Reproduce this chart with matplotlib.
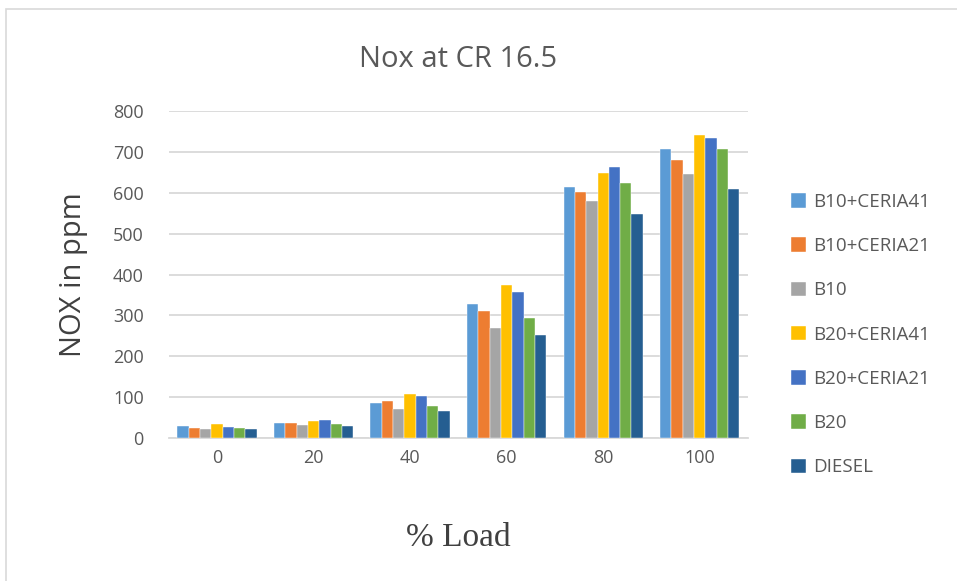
import numpy as np
import matplotlib.pyplot as plt
from matplotlib.patches import Rectangle

# data
loads = ['0', '20', '40', '60', '80', '100']
series_names = ['B10+CERIA41', 'B10+CERIA21', 'B10', 'B20+CERIA41',
                'B20+CERIA21', 'B20', 'DIESEL']
b10_ceria41 = [29, 37, 85, 327, 615, 708]
b10_ceria21 = [24, 37, 91, 310, 602, 680]
b10 = [22, 32, 70, 270, 579, 646]
b20_ceria41 = [34, 41, 108, 374, 648, 742]
b20_ceria21 = [28, 43, 102, 357, 663, 733]
b20 = [25, 35, 79, 293, 623, 706]
diesel = [21, 29, 66, 251, 548, 609]
yticks = [0, 100, 200, 300, 400, 500, 600, 700, 800]

values = [b10_ceria41, b10_ceria21, b10, b20_ceria41, b20_ceria21, b20, diesel]
colors = ['#5B9BD5', '#ED7D31', '#A5A5A5', '#FFC000', '#4472C4', '#70AD47', '#255E91']

plt.rcParams['font.family'] = ['Open Sans', 'DejaVu Sans']

fig = plt.figure(figsize=(9.57, 5.81), dpi=100)
ax = fig.add_axes([0.1763, 0.2461, 0.6053, 0.5628])

# light chart border
fig.patches.append(Rectangle((0.006, -0.01), 1.1, 0.995, transform=fig.transFigure,
                             fill=False, edgecolor='#d9d9d9', linewidth=1.2))

x = np.arange(len(loads))
n = len(values)
group_w = 0.82
bw = group_w / n
for i, (name, vals) in enumerate(zip(series_names, values)):
    ax.bar(x - group_w / 2 + bw * (i + 0.5), vals, width=bw, color=colors[i],
           label=name, edgecolor='white', linewidth=0.3, zorder=3)

ax.set_xlim(-0.5, len(loads) - 0.5)
ax.set_ylim(0, 800)
ax.set_yticks(yticks)
ax.set_xticks(x)
ax.set_xticklabels(loads)
ax.grid(axis='y', color='#d9d9d9', linewidth=1.3, zorder=0)
for s in ['top', 'right', 'left']:
    ax.spines[s].set_visible(False)
ax.spines['bottom'].set_color('#d9d9d9')
ax.spines['bottom'].set_linewidth(1.3)
ax.tick_params(axis='both', length=0, labelsize=13, colors='#595959', pad=8)
ax.tick_params(axis='y', pad=18)

ax.set_title('Nox at CR 16.5', fontsize=21, color='#595959', pad=32)
ax.set_ylabel('NOX in ppm', fontsize=21, color='#404040', labelpad=18)
ax.set_xlabel('% Load', fontsize=24, family=['Liberation Serif'], color='#404040', labelpad=40)

leg = fig.legend(loc='upper left', bbox_to_anchor=(0.809, 0.697), frameon=False,
                 fontsize=13.5, labelspacing=1.4, handlelength=0.8, handleheight=0.8,
                 handletextpad=0.4)
for t in leg.get_texts():
    t.set_color('#595959')

fig.savefig('out.png', dpi=100)
